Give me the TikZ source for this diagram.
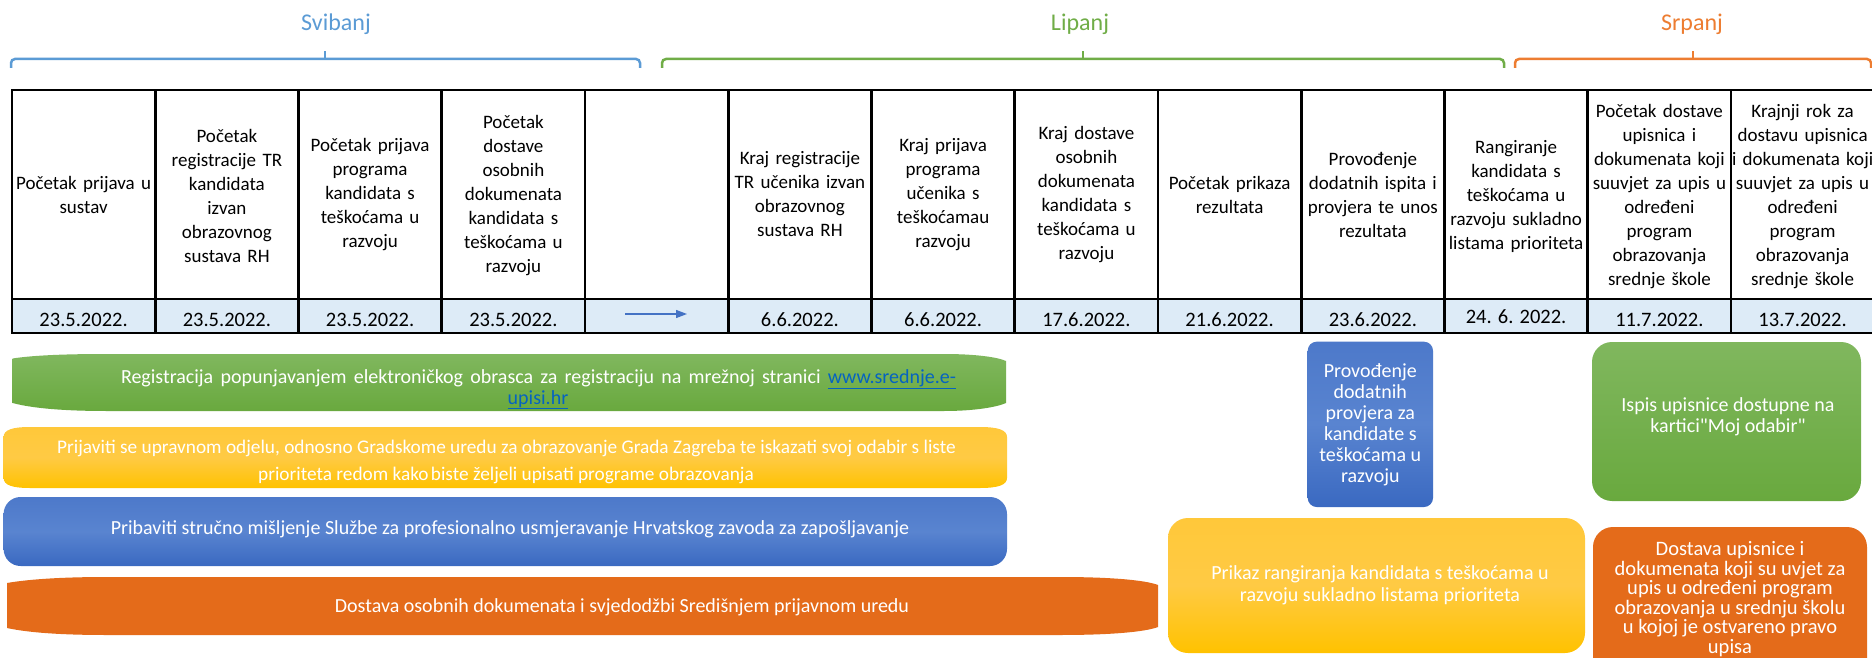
\documentclass[tikz,border=0pt]{standalone}
\usepackage{fontspec}
\setmainfont{Carlito}
\newfontfamily\plainqfont{Carlito}
\usetikzlibrary{arrows.meta}
\definecolor{svcol}{HTML}{5B9BD5}
\definecolor{lipcol}{HTML}{70AD47}
\definecolor{srpcol}{HTML}{ED7D31}
\definecolor{datefill}{HTML}{DDEBF7}
\definecolor{arrowblue}{HTML}{4472C4}
\definecolor{linkblue}{HTML}{0563C1}
\definecolor{greenTop}{HTML}{80B75E}
\definecolor{greenBot}{HTML}{69A93E}
\definecolor{yelTop}{HTML}{FFC83A}
\definecolor{yelMid}{HTML}{FFCA44}
\definecolor{yelBot}{HTML}{FFC200}
\definecolor{bluTop}{HTML}{4D79CA}
\definecolor{bluMid}{HTML}{5984D0}
\definecolor{bluBot}{HTML}{3A69C1}
\definecolor{orgFill}{HTML}{E46B1A}
\newcommand{\weblink}[1]{\textcolor{linkblue}{\underline{#1}}}
\newcommand{\strq}{{\plainqfont\symbol{34}}}
\begin{document}
\begin{tikzpicture}[x=1pt,y=-1pt,
  celltxt/.style={align=center, inner sep=0pt, text width=160pt, font=\fontsize{19}{24}\selectfont},
  datetxt/.style={anchor=base, inner sep=0pt, font=\fontsize{20.5}{24}\selectfont},
  monthtxt/.style={inner sep=0pt, font=\fontsize{24}{28}\selectfont},
  bracepath/.style={line width=2.5pt, rounded corners=4pt},
  gridline/.style={line width=2.8pt, black, line cap=rect},
  bartxt/.style={anchor=base, inner sep=0pt, text=white, font=\fontsize{20}{24}\selectfont},
  boxtxt/.style={align=center, inner sep=0pt, text=white},
  greenshade/.style={top color=greenTop, bottom color=greenBot},
  yellowshade/.style={top color=yelTop, bottom color=yelBot, middle color=yelMid},
  blueshade/.style={top color=bluTop, bottom color=bluBot, middle color=bluMid},
]
\path[use as bounding box, clip] (0,0) rectangle (1872,658);
\fill[white] (0,0) rectangle (1872,658);

% month braces
\node[monthtxt, text=svcol] (svibanj) at (336,24) {Svibanj};
\node[monthtxt, text=lipcol] (lipanj) at (1080,24) {Lipanj};
\node[monthtxt, text=srpcol] (srpanj) at (1692,24) {Srpanj};
\draw[bracepath, svcol] (11,68) -- (11,59) -- (640,59) -- (640,68);
\draw[line width=2.5pt, svcol] (325,59) -- (325,51);
\draw[bracepath, lipcol] (662,68) -- (662,59) -- (1504,59) -- (1504,68);
\draw[line width=2.5pt, lipcol] (1083,59) -- (1083,51);
\draw[bracepath, srpcol] (1515,68) -- (1515,59) -- (1871,59) -- (1871,68);
\draw[line width=2.5pt, srpcol] (1693,59) -- (1693,51);

% table
\fill[datefill] (12,299) rectangle (1874,333);
\draw[gridline] (12,90) -- (1874,90);
\draw[gridline] (12,299) -- (1874,299);
\draw[gridline] (12,333) -- (1874,333);
\foreach \i in {0,...,12} \draw[gridline] ({12+143.25*\i},90) -- ({12+143.25*\i},333);

% header cells
\node[celltxt] (c1) at (83.6,194.5) {Početak prijava u\\sustav};
\node[celltxt] (c2) at (226.9,196) {Početak\\registracije TR\\kandidata\\izvan\\obrazovnog\\sustava RH};
\node[celltxt] (c3) at (370.1,194.5) {Početak prijava\\programa\\kandidata s\\teškoćama u\\razvoju};
\node[celltxt] (c4) at (513.4,196) {Početak\\dostave\\osobnih\\dokumenata\\kandidata s\\teškoćama u\\razvoju};
\node[celltxt] (c6) at (799.9,194.5) {Kraj registracije\\TR učenika izvan\\obrazovnog\\sustava RH};
\node[celltxt] (c7) at (943.1,194.5) {Kraj prijava\\programa\\učenika s\\teškoćamau\\razvoju};
\node[celltxt] (c8) at (1086.4,194.5) {Kraj dostave\\osobnih\\dokumenata\\kandidata s\\teškoćama u\\razvoju};
\node[celltxt] (c9) at (1229.6,194.5) {Početak prikaza\\rezultata};
\node[celltxt] (c10) at (1372.9,194.5) {Provođenje\\dodatnih ispita i\\provjera te unos\\rezultata};
\node[celltxt] (c11) at (1516.1,196) {Rangiranje\\kandidata s\\teškoćama u\\razvoju sukladno\\listama prioriteta};
\node[celltxt] (c12) at (1659.4,197) {Početak dostave\\upisnica i\\dokumenata koji\\suuvjet za upis u\\određeni\\program\\obrazovanja\\srednje škole};
\node[celltxt] (c13) at (1802.6,197) {Krajnji rok za\\dostavu upisnica\\i dokumenata koji\\suuvjet za upis u\\određeni\\program\\obrazovanja\\srednje škole};

% dates
\node[datetxt] (d1) at (83.6,326) {23.5.2022.};
\node[datetxt] (d2) at (226.9,326) {23.5.2022.};
\node[datetxt] (d3) at (370.1,326) {23.5.2022.};
\node[datetxt] (d4) at (513.4,326) {23.5.2022.};
\node[datetxt] (d6) at (799.9,326) {6.6.2022.};
\node[datetxt] (d7) at (943.1,326) {6.6.2022.};
\node[datetxt] (d8) at (1086.4,326) {17.6.2022.};
\node[datetxt] (d9) at (1229.6,326) {21.6.2022.};
\node[datetxt] (d10) at (1372.9,326) {23.6.2022.};
\node[datetxt] (d11) at (1516.1,323) {24. 6. 2022.};
\node[datetxt] (d12) at (1659.4,326) {11.7.2022.};
\node[datetxt] (d13) at (1802.6,326) {13.7.2022.};
\coordinate (arrA) at (625,314);
\coordinate (arrB) at (687,314);
\draw[arrowblue, line width=1.3pt, -{Triangle[length=11pt,width=8pt]}] (arrA) -- (arrB);

% left bars
\path[greenshade] (12.5,358.5) .. controls (35,355) and (70,354) .. (107,354) -- (944,354) .. controls (975,354) and (997,357) .. (1006,361) -- (1006,403) .. controls (997,407) and (975,411) .. (944,411) -- (107,411) .. controls (70,411) and (35,409) .. (12.5,403) -- cycle;
\path[yellowshade] (3.6,437) .. controls (3.6,430) and (12,427) .. (30,427) -- (980,427) .. controls (998,427) and (1007,430) .. (1007,437) -- (1007,478) .. controls (1007,485) and (998,488) .. (980,488) -- (30,488) .. controls (12,488) and (3.6,485) .. (3.6,478) -- cycle;
\path[blueshade, rounded corners=17pt] (3.6,497) rectangle (1007,566);
\path[fill=orgFill] (7,583) .. controls (30,579) and (65,577) .. (107,577) -- (1060,577) .. controls (1110,577) and (1145,580) .. (1158,585) -- (1158,627) .. controls (1145,632) and (1110,635) .. (1060,635) -- (107,635) .. controls (65,635) and (30,633) .. (7,628) -- cycle;

\node[bartxt] (g1) at (538.5,383) {\makebox[835pt][s]{Registracija popunjavanjem elektroničkog obrasca za registraciju na mrežnoj stranici \weblink{www.srednje.e-}}};
\node[bartxt] (g2) at (538,404) {\weblink{upisi.hr}};
\node[bartxt, font=\fontsize{19.3}{24}\selectfont] (y1) at (506.5,453) {Prijaviti se upravnom odjelu, odnosno Gradskome uredu za obrazovanje Grada Zagreba te iskazati svoj odabir s liste};
\node[bartxt, font=\fontsize{19.3}{24}\selectfont] (y2) at (506,480) {prioriteta redom kako\hspace{-2pt} biste željeli upisati programe obrazovanja};
\node[bartxt] (b1) at (510,534) {Pribaviti stručno mišljenje Službe za profesionalno usmjeravanje Hrvatskog zavoda za zapošljavanje};
\node[bartxt] (o1) at (622,612) {Dostava osobnih dokumenata i svjedodžbi Središnjem prijavnom uredu};

% right boxes
\path[blueshade, rounded corners=9pt] (1307.7,341.7) rectangle (1433,507);
\node[boxtxt, font=\fontsize{20}{21}\selectfont] (pb) at (1370.3,425) {Provođenje\\dodatnih\\provjera za\\kandidate s\\teškoćama u\\razvoju};
\path[yellowshade, rounded corners=20pt] (1168,518) rectangle (1585,653);
\node[boxtxt, font=\fontsize{20}{22}\selectfont] (py) at (1380,585) {Prikaz rangiranja kandidata s teškoćama u\\razvoju sukladno listama prioriteta};
\path[greenshade, rounded corners=20pt] (1592,342) rectangle (1861,501);
\node[boxtxt, font=\fontsize{20}{20.5}\selectfont] (pg) at (1728,417) {Ispis upisnice dostupne na\\kartici\strq Moj odabir\strq};
\path[fill=orgFill, rounded corners=20pt] (1593,527) rectangle (1867,690);
\node[boxtxt, font=\fontsize{20.5}{19.6}\selectfont] (po) at (1730,599) {Dostava upisnice i\\dokumenata koji su uvjet za\\upis u određeni program\\obrazovanja u srednju školu\\u kojoj je ostvareno pravo\\upisa};
\end{tikzpicture}
\end{document}
